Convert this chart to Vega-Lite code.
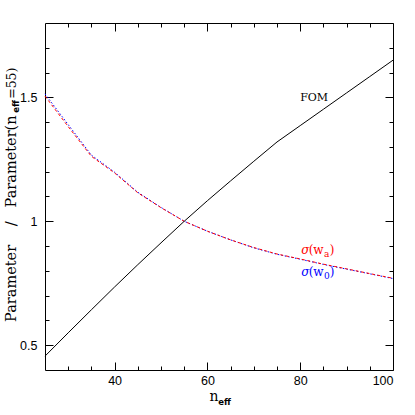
{
  "$schema": "https://vega.github.io/schema/vega-lite/v6.json",
  "width": 348,
  "height": 347,
  "autosize": "none",
  "padding": {"left": 45, "top": 23, "right": 22, "bottom": 45},
  "background": "white",
  "view": {"stroke": null},
  "config": {
    "axis": {"grid": false, "domainColor": "black", "tickColor": "black", "labelColor": "black", "labelFont": "Liberation Sans", "labelFontSize": 12.5, "domainWidth": 1, "tickWidth": 1}
  },
  "datasets": {
    "fom": [
      {"n": 25, "v": 0.456}, {"n": 30, "v": 0.55}, {"n": 35, "v": 0.643}, {"n": 40, "v": 0.735},
      {"n": 45, "v": 0.825}, {"n": 50, "v": 0.913}, {"n": 55, "v": 1.0}, {"n": 60, "v": 1.083},
      {"n": 65, "v": 1.163}, {"n": 70, "v": 1.242}, {"n": 75, "v": 1.32}, {"n": 80, "v": 1.386},
      {"n": 85, "v": 1.452}, {"n": 90, "v": 1.518}, {"n": 95, "v": 1.584}, {"n": 100, "v": 1.65}
    ],
    "wa": [
      {"n": 25, "v": 1.505}, {"n": 30, "v": 1.382}, {"n": 35, "v": 1.262}, {"n": 40, "v": 1.195},
      {"n": 45, "v": 1.115}, {"n": 50, "v": 1.055}, {"n": 55, "v": 1.0}, {"n": 60, "v": 0.96},
      {"n": 65, "v": 0.925}, {"n": 70, "v": 0.894}, {"n": 75, "v": 0.868}, {"n": 80, "v": 0.848},
      {"n": 85, "v": 0.827}, {"n": 90, "v": 0.808}, {"n": 95, "v": 0.789}, {"n": 100, "v": 0.77}
    ],
    "w0": [
      {"n": 25, "v": 1.514}, {"n": 30, "v": 1.39}, {"n": 35, "v": 1.267}, {"n": 40, "v": 1.198},
      {"n": 45, "v": 1.117}, {"n": 50, "v": 1.056}, {"n": 55, "v": 1.0}, {"n": 60, "v": 0.96},
      {"n": 65, "v": 0.925}, {"n": 70, "v": 0.893}, {"n": 75, "v": 0.867}, {"n": 80, "v": 0.847},
      {"n": 85, "v": 0.826}, {"n": 90, "v": 0.807}, {"n": 95, "v": 0.788}, {"n": 100, "v": 0.769}
    ]
  },
  "data": {"values": [{}]},
  "resolve": {"axis": {"x": "independent", "y": "independent"}},
  "layer": [
    {
      "data": {"name": "w0"},
      "mark": {"type": "line", "color": "#0000ff", "strokeWidth": 1, "strokeDash": [1.5, 2]},
      "encoding": {
        "x": {"field": "n", "type": "quantitative", "scale": {"domain": [25, 100], "nice": false, "zero": false},
              "axis": {"orient": "bottom", "title": null, "values": [30, 35, 45, 50, 55, 65, 70, 75, 85, 90, 95], "tickSize": -4, "labels": false, "domain": false}},
        "y": {"field": "v", "type": "quantitative", "scale": {"domain": [0.4, 1.8], "nice": false, "zero": false},
              "axis": {"orient": "left", "title": null, "values": [0.6, 0.7, 0.8, 0.9, 1.1, 1.2, 1.3, 1.4, 1.6, 1.7], "tickSize": -4, "labels": false, "domain": false}}
      }
    },
    {
      "data": {"name": "wa"},
      "mark": {"type": "line", "color": "#ff0000", "strokeWidth": 1, "strokeDash": [3, 2.5]},
      "encoding": {
        "x": {"field": "n", "type": "quantitative", "scale": {"domain": [25, 100], "nice": false, "zero": false},
              "axis": {"orient": "top", "title": null, "values": [40, 60, 80, 100], "tickSize": -8, "labels": false, "domain": true}},
        "y": {"field": "v", "type": "quantitative", "scale": {"domain": [0.4, 1.8], "nice": false, "zero": false},
              "axis": {"orient": "right", "title": null, "values": [0.5, 1, 1.5], "tickSize": -8, "labels": false, "domain": true}}
      }
    },
    {
      "data": {"name": "fom"},
      "mark": {"type": "line", "color": "black", "strokeWidth": 1},
      "encoding": {
        "x": {"field": "n", "type": "quantitative", "scale": {"domain": [25, 100], "nice": false, "zero": false},
              "axis": {"orient": "bottom", "title": null, "values": [40, 60, 80, 100], "tickSize": -8, "labelPadding": 12, "domain": true}},
        "y": {"field": "v", "type": "quantitative", "scale": {"domain": [0.4, 1.8], "nice": false, "zero": false},
              "axis": {"orient": "left", "title": null, "values": [0.5, 1, 1.5], "tickSize": -8, "labelPadding": 16, "domain": true,
                       "labelExpr": "datum.value == 0.5 ? '0.5' : datum.value == 1 ? '1' : '1.5'"}}
      }
    },
    {
      "mark": {"type": "text", "text": "FOM", "font": "DejaVu Serif", "fontSize": 11, "align": "left", "baseline": "alphabetic", "color": "black"},
      "encoding": {
        "x": {"datum": 80, "type": "quantitative", "axis": {"orient": "top", "title": null, "values": [30, 35, 45, 50, 55, 65, 70, 75, 85, 90, 95], "tickSize": -4, "labels": false, "domain": false}},
        "y": {"datum": 1.485, "type": "quantitative", "axis": {"orient": "right", "title": null, "values": [0.6, 0.7, 0.8, 0.9, 1.1, 1.2, 1.3, 1.4, 1.6, 1.7], "tickSize": -4, "labels": false, "domain": false}}
      }
    },
    {
      "mark": {"type": "text", "text": "σ", "font": "DejaVu Serif", "fontStyle": "italic", "fontSize": 12, "align": "left", "baseline": "alphabetic", "color": "#ff0000"},
      "encoding": {"x": {"datum": 80.2, "type": "quantitative", "axis": null}, "y": {"datum": 0.867, "type": "quantitative", "axis": null}}
    },
    {
      "mark": {"type": "text", "text": "(w", "font": "DejaVu Serif", "fontSize": 12, "align": "left", "baseline": "alphabetic", "color": "#ff0000", "dx": 7.5},
      "encoding": {"x": {"datum": 80.2, "type": "quantitative", "axis": null}, "y": {"datum": 0.867, "type": "quantitative", "axis": null}}
    },
    {
      "mark": {"type": "text", "text": "a", "font": "DejaVu Serif", "fontSize": 9, "align": "left", "baseline": "alphabetic", "color": "#ff0000", "dx": 22.8, "dy": 3},
      "encoding": {"x": {"datum": 80.2, "type": "quantitative", "axis": null}, "y": {"datum": 0.867, "type": "quantitative", "axis": null}}
    },
    {
      "mark": {"type": "text", "text": ")", "font": "DejaVu Serif", "fontSize": 12, "align": "left", "baseline": "alphabetic", "color": "#ff0000", "dx": 28.5},
      "encoding": {"x": {"datum": 80.2, "type": "quantitative", "axis": null}, "y": {"datum": 0.867, "type": "quantitative", "axis": null}}
    },
    {
      "mark": {"type": "text", "text": "σ", "font": "DejaVu Serif", "fontStyle": "italic", "fontSize": 12, "align": "left", "baseline": "alphabetic", "color": "#0000ff"},
      "encoding": {"x": {"datum": 80.2, "type": "quantitative", "axis": null}, "y": {"datum": 0.779, "type": "quantitative", "axis": null}}
    },
    {
      "mark": {"type": "text", "text": "(w", "font": "DejaVu Serif", "fontSize": 12, "align": "left", "baseline": "alphabetic", "color": "#0000ff", "dx": 7.5},
      "encoding": {"x": {"datum": 80.2, "type": "quantitative", "axis": null}, "y": {"datum": 0.779, "type": "quantitative", "axis": null}}
    },
    {
      "mark": {"type": "text", "text": "0", "font": "DejaVu Serif", "fontSize": 9, "align": "left", "baseline": "alphabetic", "color": "#0000ff", "dx": 22.8, "dy": 3},
      "encoding": {"x": {"datum": 80.2, "type": "quantitative", "axis": null}, "y": {"datum": 0.779, "type": "quantitative", "axis": null}}
    },
    {
      "mark": {"type": "text", "text": ")", "font": "DejaVu Serif", "fontSize": 12, "align": "left", "baseline": "alphabetic", "color": "#0000ff", "dx": 28.5},
      "encoding": {"x": {"datum": 80.2, "type": "quantitative", "axis": null}, "y": {"datum": 0.779, "type": "quantitative", "axis": null}}
    },
    {
      "mark": {"type": "text", "text": "n", "font": "DejaVu Serif", "fontSize": 14, "align": "left", "baseline": "alphabetic", "color": "black", "dy": 30.5},
      "encoding": {"x": {"datum": 60.45, "type": "quantitative", "axis": null}, "y": {"datum": 0.4, "type": "quantitative", "axis": null}}
    },
    {
      "mark": {"type": "text", "text": "eff", "font": "DejaVu Sans", "fontWeight": "bold", "fontSize": 8.5, "align": "left", "baseline": "alphabetic", "color": "black", "dx": 8.8, "dy": 34.5},
      "encoding": {"x": {"datum": 60.45, "type": "quantitative", "axis": null}, "y": {"datum": 0.4, "type": "quantitative", "axis": null}}
    },
    {
      "mark": {"type": "text", "text": "Parameter", "font": "DejaVu Serif", "fontSize": 14.5, "angle": 270, "align": "left", "baseline": "alphabetic", "color": "black", "dy": -29.5},
      "encoding": {"x": {"datum": 25, "type": "quantitative", "axis": null}, "y": {"datum": 0.594, "type": "quantitative", "axis": null}}
    },
    {
      "mark": {"type": "text", "text": "/", "font": "DejaVu Serif", "fontSize": 14.5, "angle": 270, "align": "center", "baseline": "alphabetic", "color": "black", "dy": -29.5},
      "encoding": {"x": {"datum": 25, "type": "quantitative", "axis": null}, "y": {"datum": 0.99, "type": "quantitative", "axis": null}}
    },
    {
      "mark": {"type": "text", "text": "Parameter(n", "font": "DejaVu Serif", "fontSize": 14.5, "angle": 270, "align": "left", "baseline": "alphabetic", "color": "black", "dy": -29.5},
      "encoding": {"x": {"datum": 25, "type": "quantitative", "axis": null}, "y": {"datum": 1.056, "type": "quantitative", "axis": null}}
    },
    {
      "mark": {"type": "text", "text": "eff", "font": "DejaVu Sans", "fontWeight": "bold", "fontSize": 8.5, "angle": 270, "align": "left", "baseline": "alphabetic", "color": "black", "dy": -26.5},
      "encoding": {"x": {"datum": 25, "type": "quantitative", "axis": null}, "y": {"datum": 1.438, "type": "quantitative", "axis": null}}
    },
    {
      "mark": {"type": "text", "text": "=55)", "font": "DejaVu Serif", "fontSize": 12.5, "angle": 270, "align": "left", "baseline": "alphabetic", "color": "black", "dy": -29.5},
      "encoding": {"x": {"datum": 25, "type": "quantitative", "axis": null}, "y": {"datum": 1.494, "type": "quantitative", "axis": null}}
    }
  ]
}
